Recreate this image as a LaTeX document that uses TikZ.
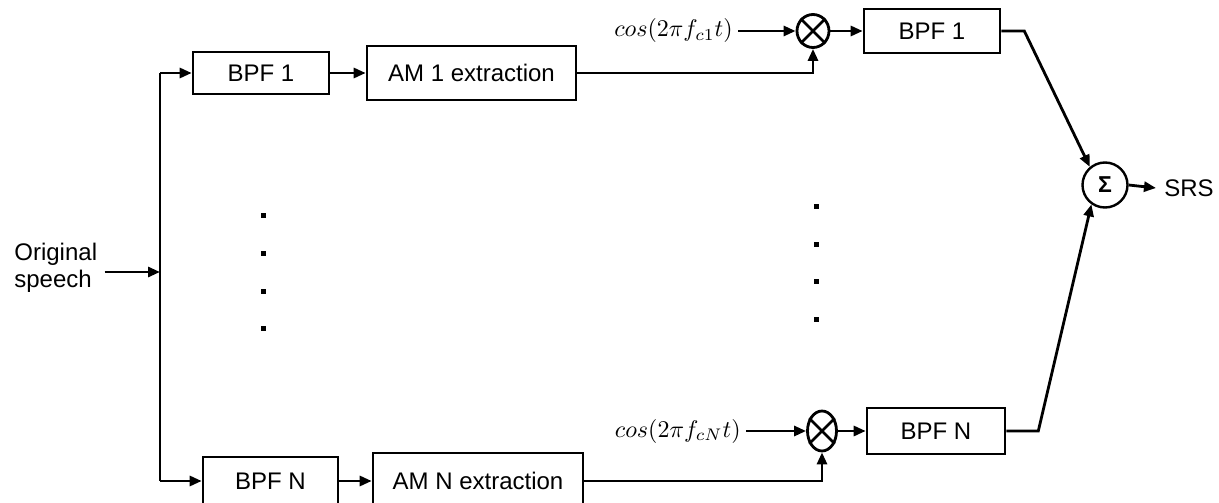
\documentclass[tikz,border=0pt]{standalone}
\usepackage{graphicx}
\usepackage{fontspec}
\setmainfont{Liberation Sans}
\usetikzlibrary{arrows.meta,shapes.geometric}
\begin{document}
\begin{tikzpicture}[x=1pt,y=-1pt,line width=2.8pt,
  box/.style={draw,line width=2.6pt,inner sep=0pt,font=\fontsize{24}{28}\selectfont},
  arr/.style={-{Triangle[length=12pt,width=10pt]}},
  mult/.style={draw,ellipse,line width=2.8pt,inner sep=0pt},
  lbl/.style={inner sep=0pt,font=\fontsize{24}{27}\selectfont},
  mlbl/.style={inner sep=4pt},
  dotsq/.style={fill=black,inner sep=0pt,minimum size=5pt}]
\useasboundingbox (0,0) rectangle (1219,503);
\clip (0,0) rectangle (1219,503);
% input
\node[lbl,align=left,anchor=west] (speech) at (13,268) {Original\\speech};
\coordinate (in) at (160,272);
\coordinate (top) at (160,73);
\coordinate (bot) at (160,481);
% top branch
\node[box,minimum width=136pt,minimum height=42pt] (bpfa) at (261,73) {BPF 1};
\node[box,minimum width=209pt,minimum height=54pt] (ama) at (471.5,73) {AM 1 extraction};
\node[mult,minimum width=32pt,minimum height=33pt] (ma) at (813,31) {};
\node[mlbl,anchor=east] (cosa) at (738,31) {\scalebox{2.4}{$cos(2\pi f_{c1}t)$}};
\node[box,minimum width=136pt,minimum height=44pt] (bpfao) at (932,31) {BPF 1};
% bottom branch
\node[box,minimum width=135pt,minimum height=48pt] (bpfn) at (270.5,481) {BPF N};
\node[box,minimum width=210pt,minimum height=56pt] (amn) at (478,481) {AM N extraction};
\node[mult,minimum width=29pt,minimum height=40pt] (mn) at (822,431) {};
\node[mlbl,anchor=east] (cosn) at (746,431) {\scalebox{2.4}{$cos(2\pi f_{cN}t)$}};
\node[box,minimum width=138pt,minimum height=46pt] (bpfno) at (936,431) {BPF N};
% sum
\node[draw,circle,line width=2.4pt,minimum size=45pt,inner sep=0pt,font=\bfseries\fontsize{23}{23}\selectfont] (sum) at (1105,185) {Σ};
\node[lbl,anchor=west] (srs) at (1163,188) {SRS};
% dots
\node[dotsq] (d1) at (263,215) {};
\node[dotsq] (d2) at (263,253) {};
\node[dotsq] (d3) at (263,291) {};
\node[dotsq] (d4) at (263,328) {};
\node[dotsq] (d5) at (816,206) {};
\node[dotsq] (d6) at (816,244) {};
\node[dotsq] (d7) at (816,281) {};
\node[dotsq] (d8) at (816,319) {};
% multiplier crosses
\draw[line width=2.8pt] (ma.135) -- (ma.-45) (ma.45) -- (ma.-135);
\draw[line width=2.8pt] (mn.135) -- (mn.-45) (mn.45) -- (mn.-135);
% connectors
\draw[arr] (speech.east|-in) ++(6,0) -- (in);
\draw (top) -- (bot);
\draw[arr] (top) -- (bpfa.west);
\draw[arr] (bot) -- (bpfn.west);
\draw[arr] (bpfa.east) -- (ama.west);
\draw[arr] (bpfn.east) -- (amn.west);
\draw[arr] (ama.east) -| (ma.south);
\draw[arr] (amn.east) -| (mn.south);
\draw[arr] (cosa.east) -- (ma.west);
\draw[arr] (cosn.east) -- (mn.west);
\draw[arr] (ma.east) -- (bpfao.west);
\draw[arr] (mn.east) -- (bpfno.west);
\draw[arr] (bpfao.east) -- ++(23,0) -- (sum.130);
\draw[arr] (bpfno.east) -- ++(32,0) -- (sum.235);
\draw[arr] (sum.east) -- ([xshift=-7pt]srs.west);
\end{tikzpicture}
\end{document}
